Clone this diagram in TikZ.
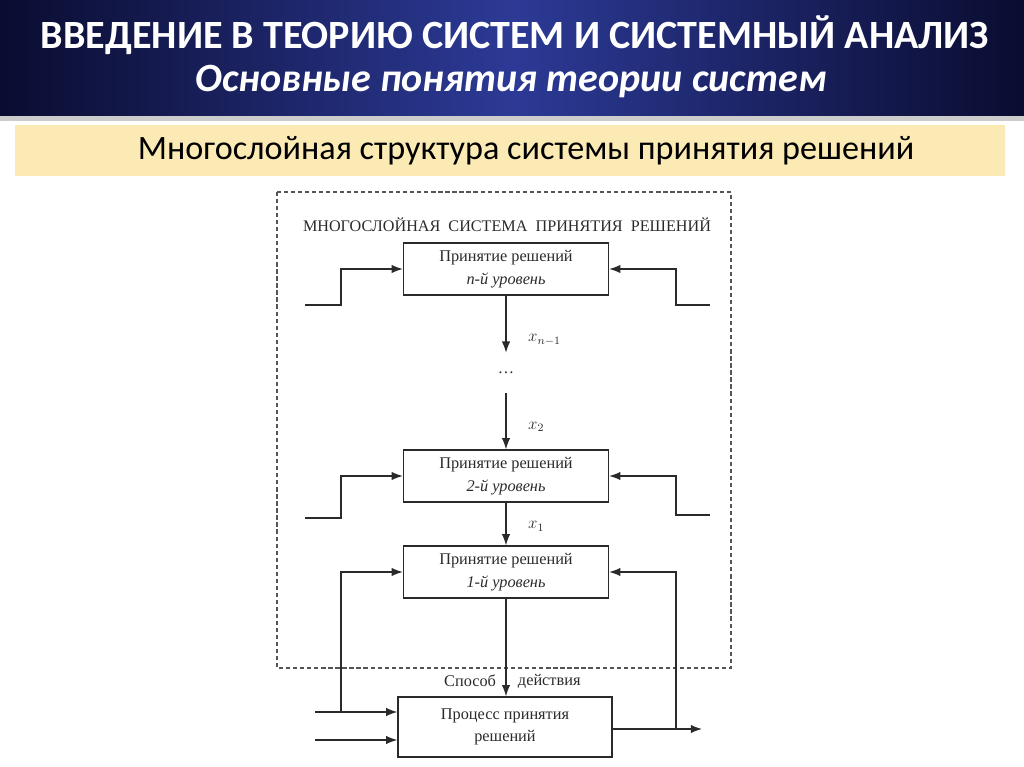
\documentclass[tikz,border=0pt]{standalone}
\usepackage{fontspec}
\setmainfont{Carlito}
\newfontfamily\scanfont{Liberation Serif}
\usepackage{xcolor}
\usetikzlibrary{arrows.meta,positioning}

\definecolor{headdark}{HTML}{0A0C30}
\definecolor{headblue}{HTML}{2C3A96}
\definecolor{bandyellow}{HTML}{FCEAB4}
\definecolor{scanink}{HTML}{2A2A2A}

\begin{document}
\begin{tikzpicture}[x=0.025cm,y=-0.025cm,
every node/.style={font=\scanfont\fontsize{11.6}{13}\selectfont,text=scanink},
level/.style={draw=scanink,line width=0.9pt,align=center,minimum width=5.125cm,
minimum height=1.3cm,inner sep=1pt},
arr/.style={-{Latex[length=8pt,width=6pt]},line width=0.9pt,draw=scanink},
line/.style={line width=0.9pt,draw=scanink}]
\useasboundingbox (0,0) rectangle (1024,767);

% header
\shade[left color=headdark,right color=headdark,middle color=headblue] (0,0) rectangle (1024,116);
\fill[gray!40] (0,116) rectangle (1024,121);
\node[font=\bfseries\fontsize{28.5}{30}\selectfont,text=white] (title) at (515,35) {ВВЕДЕНИЕ В ТЕОРИЮ СИСТЕМ И СИСТЕМНЫЙ АНАЛИЗ};
\node[font=\bfseries\itshape\fontsize{28.5}{30}\selectfont,text=white] (subtitle) at (511,82) {Основные понятия теории систем};

% yellow band
\fill[bandyellow] (15,125) rectangle (1005,176);
\node[font=\fontsize{24.3}{26}\selectfont,text=black] (band) at (526,151) {Многослойная структура системы принятия решений};

% dashed frame
\draw[scanink!80,line width=0.8pt,dash pattern=on 3pt off 2pt] (277,192) rectangle (731,668);
\node (frame) at (507,225) {\fontsize{11.5}{13}\selectfont МНОГОСЛОЙНАЯ\ \ СИСТЕМА\ \ ПРИНЯТИЯ\ \ РЕШЕНИЙ};

% levels
\node[level] (levN) at (506,269) {Принятие решений\\[3pt] \itshape n-й уровень};
\node[level] (lev2) at (506,476) {Принятие решений\\[3pt] \itshape 2-й уровень};
\node[level] (lev1) at (506,572) {Принятие решений\\[3pt] \itshape 1-й уровень};
\node[draw=scanink,line width=0.9pt,align=center,minimum width=5.35cm,minimum height=1.5cm] (proc) at (505,727) {Процесс принятия\\[3pt] решений};

\node[minimum height=1.0cm] (dots) at (506,373) {\dots};

% side inputs
\coordinate (inNL) at (305,305); \coordinate (inNR) at (710,305);
\coordinate (in2L) at (305,518); \coordinate (in2R) at (710,515);
\draw[arr] (inNL) -- ++(36,0) |- (levN.west);
\draw[arr] (inNR) -- ++(-34,0) |- (levN.east);
\draw[arr] (in2L) -- ++(36,0) |- (lev2.west);
\draw[arr] (in2R) -- ++(-34,0) |- (lev2.east);

% vertical flow
\draw[arr] (levN.south) -- (dots.north) node[pos=0.78,right=12pt] {$x_{n-1}$};
\draw[arr] (dots.south) -- (lev2.north) node[pos=0.6,right=12pt] {$x_2$};
\draw[arr] (lev2.south) -- (lev1.north) node[pos=0.55,right=12pt] {$x_1$};
\draw[arr] (lev1.south) -- (lev1.south |- proc.north);
\node[anchor=east] (way) at (501,681) {Способ};
\node[anchor=west] (action) at (513,681) {действия};

% process inputs, output, feedback
\coordinate (inA) at (315,712); \coordinate (inB) at (315,740);
\coordinate (out) at (702,729);
\coordinate (fbL) at (341,712); \coordinate (fbR) at (676,729);
\draw[arr] (inA) -- (proc.west |- inA);
\draw[arr] (inB) -- (proc.west |- inB);
\draw[arr] (proc.east |- out) -- (out);
\draw[arr] (fbL) |- (lev1.west);
\draw[arr] (fbR) |- (lev1.east);
\end{tikzpicture}
\end{document}
